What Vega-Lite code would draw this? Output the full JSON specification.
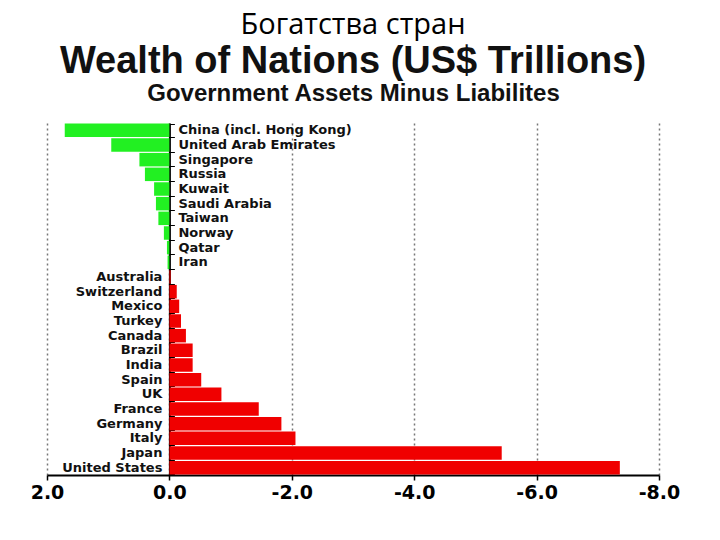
{
  "$schema": "https://vega.github.io/schema/vega-lite/v6.json",
  "width": 612,
  "height": 352,
  "autosize": {"type": "none"},
  "padding": {"left": 47, "top": 123, "right": 61, "bottom": 65},
  "background": "white",
  "config": {"view": {"stroke": null}},
  "title": {
    "text": "Богатства стран",
    "subtitle": "Wealth of Nations (US$ Trillions)",
    "font": "Open Sans",
    "fontSize": 29,
    "fontWeight": "normal",
    "color": "black",
    "subtitleFont": "Liberation Sans",
    "subtitleFontSize": 38,
    "subtitleFontWeight": "bold",
    "subtitleColor": "#111111",
    "subtitlePadding": 3,
    "anchor": "middle",
    "offset": 0
  },
  "data": {
    "values": [
      {"country": "China (incl. Hong Kong)", "value": 1.71},
      {"country": "United Arab Emirates", "value": 0.95},
      {"country": "Singapore", "value": 0.49},
      {"country": "Russia", "value": 0.40},
      {"country": "Kuwait", "value": 0.25},
      {"country": "Saudi Arabia", "value": 0.22},
      {"country": "Taiwan", "value": 0.18},
      {"country": "Norway", "value": 0.09},
      {"country": "Qatar", "value": 0.04},
      {"country": "Iran", "value": 0.03},
      {"country": "Australia", "value": -0.02},
      {"country": "Switzerland", "value": -0.12},
      {"country": "Mexico", "value": -0.16},
      {"country": "Turkey", "value": -0.19},
      {"country": "Canada", "value": -0.27},
      {"country": "Brazil", "value": -0.38},
      {"country": "India", "value": -0.38},
      {"country": "Spain", "value": -0.52},
      {"country": "UK", "value": -0.85},
      {"country": "France", "value": -1.46},
      {"country": "Germany", "value": -1.83},
      {"country": "Italy", "value": -2.06},
      {"country": "Japan", "value": -5.43},
      {"country": "United States", "value": -7.36}
    ]
  },
  "encoding": {
    "y": {
      "field": "country",
      "type": "nominal",
      "sort": null,
      "scale": {"paddingInner": 0.08, "paddingOuter": 0.04},
      "axis": {
        "orient": "right",
        "offset": -489.6,
        "labels": false,
        "title": null,
        "domain": true,
        "domainColor": "black",
        "domainWidth": 2,
        "ticks": true,
        "tickColor": "black",
        "tickSize": 5,
        "tickBand": "extent",
        "grid": false
      }
    }
  },
  "resolve": {"axis": {"x": "independent"}},
  "layer": [
    {
      "mark": {"type": "bar"},
      "encoding": {
        "x": {
          "field": "value",
          "type": "quantitative",
          "scale": {"domain": [-8, 2], "reverse": true, "nice": false, "zero": true},
          "axis": {
            "orient": "bottom",
            "values": [2, 0, -2, -4, -6, -8],
            "labelExpr": "replace(format(datum.value, '.1f'), '\u2212', '-')",
            "title": null,
            "labelFont": "DejaVu Sans",
            "labelFontSize": 19,
            "labelFontWeight": "bold",
            "labelColor": "black",
            "labelFlush": false,
            "labelOverlap": false,
            "labelPadding": 3,
            "domainColor": "black",
            "domainWidth": 2,
            "tickColor": "black",
            "tickSize": 5,
            "tickWidth": 1.5,
            "grid": true,
            "gridColor": "#777777",
            "gridDash": [2, 3],
            "gridWidth": 1.5
          }
        },
        "color": {
          "condition": {"test": "datum.value > 0", "value": "#22f022"},
          "value": "#f00000"
        }
      }
    },
    {
      "transform": [{"filter": "datum.value > 0"}],
      "mark": {"type": "text", "align": "left", "baseline": "middle", "dx": 9, "font": "DejaVu Sans", "fontSize": 13, "fontWeight": "bold", "color": "#111111"},
      "encoding": {
        "x": {
          "datum": 0,
          "type": "quantitative",
          "axis": {
            "orient": "top",
            "title": "Government Assets Minus Liabilites",
            "titleFont": "Liberation Sans",
            "titleFontSize": 24,
            "titleFontWeight": "bold",
            "titleColor": "#111111",
            "titlePadding": 18,
            "labels": false,
            "ticks": false,
            "domain": false,
            "grid": false
          }
        },
        "text": {"field": "country"}
      }
    },
    {
      "transform": [{"filter": "datum.value <= 0"}],
      "mark": {"type": "text", "align": "right", "baseline": "middle", "dx": -7, "font": "DejaVu Sans", "fontSize": 13, "fontWeight": "bold", "color": "#111111"},
      "encoding": {
        "x": {"datum": 0, "type": "quantitative", "axis": null},
        "text": {"field": "country"}
      }
    }
  ]
}
